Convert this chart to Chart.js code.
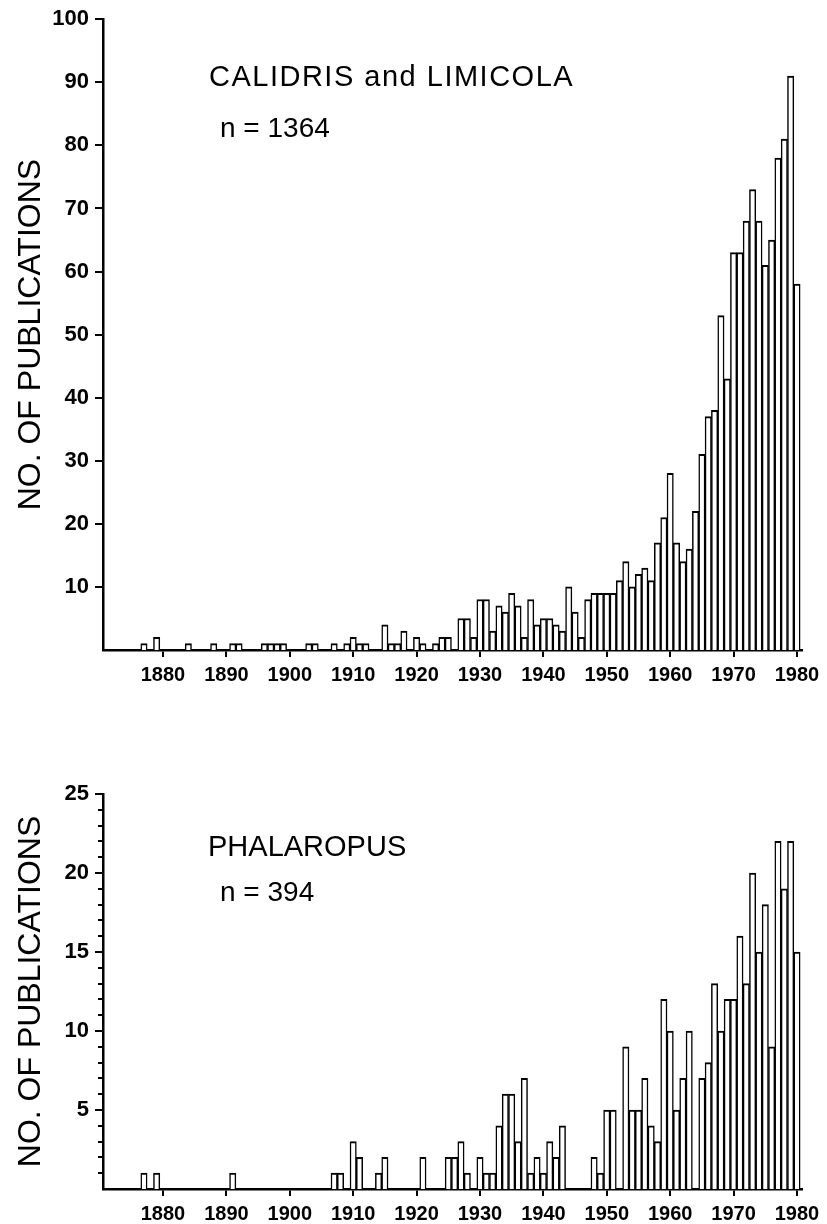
<!DOCTYPE html>
<html>
<head>
<meta charset="utf-8">
<script src="https://cdn.jsdelivr.net/npm/chart.js@4.4.1/dist/chart.umd.min.js"></script>
<style>
  body { margin: 0; background: #fff; }
  #page { position: relative; width: 827px; height: 1224px; overflow: hidden; background: #fff; }
  canvas { position: absolute; left: 0; }
  .note { position: absolute; line-height: 1; color: #000; white-space: nowrap;
          font-family: "Liberation Sans", Arial, sans-serif; }
  .name { font-size: 29px; }
  .count { font-size: 28px; }
</style>
</head>
<body>
<div id="page">
  <canvas id="chartTop" width="827" height="700" style="top:0px"></canvas>
  <canvas id="chartBottom" width="827" height="504" style="top:720px"></canvas>
  <div class="note name" style="left:209px; top:62px; letter-spacing:1.5px">CALIDRIS and LIMICOLA</div>
  <div class="note count" style="left:220px; top:114px">n = 1364</div>
  <div class="note name" style="left:208px; top:832px">PHALAROPUS</div>
  <div class="note count" style="left:220px; top:878px">n = 394</div>
</div>
<script>
// publications per year (years with no bar left out)
var calidrisYears = [1877, 1879, 1884, 1888, 1891, 1892, 1896, 1897, 1898, 1899,
  1903, 1904, 1907, 1909, 1910, 1911, 1912, 1915, 1916, 1917, 1918, 1920, 1921,
  1923, 1924, 1925, 1927, 1928, 1929, 1930, 1931, 1932, 1933, 1934, 1935, 1936,
  1937, 1938, 1939, 1940, 1941, 1942, 1943, 1944, 1945, 1946, 1947, 1948, 1949,
  1950, 1951, 1952, 1953, 1954, 1955, 1956, 1957, 1958, 1959, 1960, 1961, 1962,
  1963, 1964, 1965, 1966, 1967, 1968, 1969, 1970, 1971, 1972, 1973, 1974, 1975,
  1976, 1977, 1978, 1979, 1980];
var calidrisCounts = [1, 2, 1, 1, 1, 1, 1, 1, 1, 1,
  1, 1, 1, 1, 2, 1, 1, 4, 1, 1, 3, 2, 1,
  1, 2, 2, 5, 5, 2, 8, 8, 3, 7, 6, 9, 7,
  2, 8, 4, 5, 5, 4, 3, 10, 6, 2, 8, 9, 9,
  9, 9, 11, 14, 10, 12, 13, 11, 17, 21, 28, 17, 14,
  16, 22, 31, 37, 38, 53, 43, 63, 63, 68, 73, 68, 61,
  65, 78, 81, 91, 58];

var phalaropusYears = [1877, 1879, 1891, 1907, 1908, 1910, 1911, 1914, 1915, 1921,
  1925, 1926, 1927, 1928, 1930, 1931, 1932, 1933, 1934, 1935, 1936, 1937, 1938,
  1939, 1940, 1941, 1942, 1943, 1948, 1949, 1950, 1951, 1953, 1954, 1955, 1956,
  1957, 1958, 1959, 1960, 1961, 1962, 1963, 1965, 1966, 1967, 1968, 1969, 1970,
  1971, 1972, 1973, 1974, 1975, 1976, 1977, 1978, 1979, 1980];
var phalaropusCounts = [1, 1, 1, 1, 1, 3, 2, 1, 2, 2,
  2, 2, 3, 1, 2, 1, 1, 4, 6, 6, 3, 7, 1,
  2, 1, 3, 2, 4, 2, 1, 5, 5, 9, 5, 5, 7,
  4, 3, 12, 10, 5, 7, 10, 7, 8, 13, 10, 12, 12,
  16, 13, 20, 15, 18, 9, 22, 19, 22, 15];

var yearMin = 1870.54, yearMax = 1980.79, yearStep = 10;
var axisTitle = "NO. OF PUBLICATIONS";
var fontFam = '"Liberation Sans", Arial, sans-serif';

// short unlabelled ticks between the labelled ones (lower chart)
var minorTicks = {
  id: 'minorTicks',
  afterDraw: function(chart, args, opts) {
    if (!opts || !opts.step) return;
    var sc = chart.scales.y, ctx = chart.ctx;
    ctx.save();
    ctx.strokeStyle = '#000';
    ctx.lineWidth = 2;
    for (var v = opts.step; v < sc.max; v += opts.step) {
      if (v % opts.major === 0) continue;
      var py = Math.round(sc.getPixelForValue(v));
      ctx.beginPath();
      ctx.moveTo(sc.right - 5, py);
      ctx.lineTo(sc.right, py);
      ctx.stroke();
    }
    ctx.restore();
  }
};

function makeChart(id, years, counts, yMax, yStep, padTop, xAxisH, minor) {
  var pts = [];
  for (var i = 0; i < years.length; i++) pts.push({x: years[i], y: counts[i]});
  return new Chart(document.getElementById(id), {
    type: 'bar',
    data: {
      datasets: [{
        data: pts,
        backgroundColor: '#fff',
        borderColor: '#000',
        borderWidth: {top: 2, left: 1.5, right: 1.5, bottom: 0},
        barPercentage: 1,
        categoryPercentage: 1
      }]
    },
    plugins: [minorTicks],
    options: {
      responsive: false,
      animation: false,
      layout: { padding: { top: padTop, right: 25, left: 0, bottom: 0 } },
      plugins: {
        legend: { display: false },
        tooltip: { enabled: false },
        minorTicks: minor
      },
      scales: {
        x: {
          type: 'linear',
          min: yearMin,
          max: yearMax,
          offset: false,
          afterFit: function(s) { s.height = xAxisH; },
          border: { display: true, color: '#000', width: 2.5 },
          grid: { drawOnChartArea: false, drawTicks: true, tickLength: 7, color: '#000', lineWidth: 2, offset: false },
          ticks: {
            stepSize: yearStep, includeBounds: false, autoSkip: false, maxRotation: 0,
            padding: 6, color: '#000',
            font: { family: fontFam, size: 20, weight: 'bold' },
            callback: function(v) { return String(v); }
          }
        },
        y: {
          min: 0,
          max: yMax,
          afterFit: function(s) { s.width = 103; },
          border: { display: true, color: '#000', width: 2.5 },
          grid: { drawOnChartArea: false, tickLength: 8, color: '#000', lineWidth: 2 },
          ticks: {
            stepSize: yStep, padding: 6, color: '#000',
            font: { family: fontFam, size: 22, weight: 'bold' },
            callback: function(v) { return v === 0 ? null : String(v); }
          },
          title: {
            display: true, text: axisTitle, color: '#000',
            font: { family: fontFam, size: 32 },
            padding: { top: 12, bottom: 0 }
          }
        }
      }
    }
  });
}

makeChart('chartTop', calidrisYears, calidrisCounts, 100, 10, 17, 50, false);
makeChart('chartBottom', phalaropusYears, phalaropusCounts, 25, 5, 74, 35, { step: 1, major: 5 });
</script>
</body>
</html>
